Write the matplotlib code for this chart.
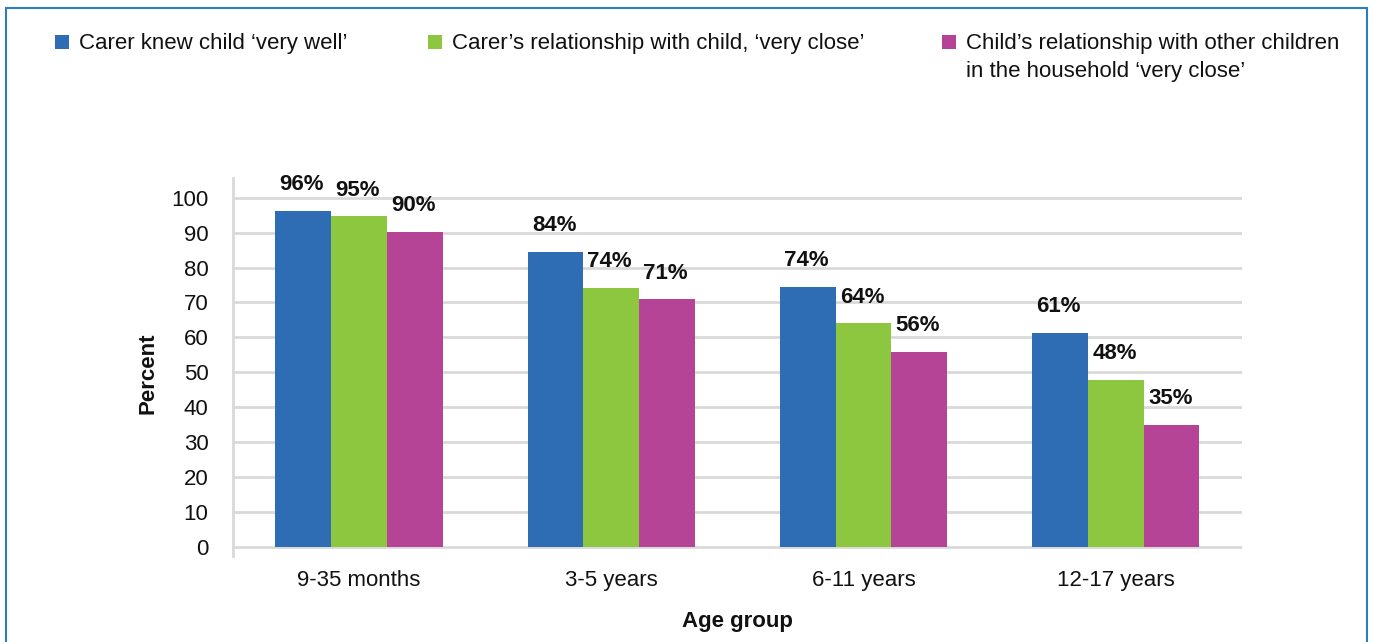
import matplotlib
matplotlib.use("Agg")
import matplotlib.pyplot as plt
from matplotlib.patches import Rectangle
import numpy as np

plt.rcParams['font.family'] = ['Liberation Sans', 'DejaVu Sans']

categories = ['9-35 months', '3-5 years', '6-11 years', '12-17 years']
series_names = ["Carer knew child \u2018very well\u2019",
                "Carer\u2019s relationship with child, \u2018very close\u2019",
                "Child\u2019s relationship with other children\nin the household \u2018very close\u2019"]
knew_very_well = [96.3, 84.4, 74.4, 61.2]
carer_very_close = [94.6, 74.2, 64.0, 47.8]
child_very_close = [90.3, 70.9, 55.8, 35.1]
yticks = [0, 10, 20, 30, 40, 50, 60, 70, 80, 90, 100]

colors = ['#2e6db4', '#8dc63f', '#b54496']
W, H = 1373, 642
FS = 16
fig = plt.figure(figsize=(W / 100, H / 100), dpi=100)

ax = fig.add_axes([232.7 / W, 1 - 556 / H, (1242 - 232.7) / W, (556 - 178) / H])
x = np.arange(len(categories))
bw = 0.221
series = [knew_very_well, carer_very_close, child_very_close]
for i, (vals, c) in enumerate(zip(series, colors)):
    pos = x + (i - 1) * bw
    ax.bar(pos, vals, width=bw, color=c, zorder=3)
    for px, v in zip(pos, vals):
        ax.annotate(f"{round(v)}%", (px, v), xytext=(-1, 15), textcoords='offset points',
                    ha='center', va='baseline', fontsize=FS, fontweight='bold', color='#111111')

ax.set_xlim(-0.5, len(categories) - 0.5)
ax.set_ylim(-2.5, 105.6)
ax.set_yticks(yticks)
ax.set_xticks(x)
ax.set_xticklabels(categories)
ax.tick_params(axis='y', length=0, pad=17.5, labelsize=FS, labelcolor='#111111')
ax.tick_params(axis='x', length=0, pad=10, labelsize=FS, labelcolor='#111111')
ax.grid(axis='y', color='#d9d9d9', linewidth=2, zorder=0)
for s in ['top', 'right', 'bottom']:
    ax.spines[s].set_visible(False)
ax.spines['left'].set_color('#d9d9d9')
ax.spines['left'].set_linewidth(2)

fig.text(148 / W, 1 - 373 / H, 'Percent', rotation=90, ha='center', va='center',
         fontsize=FS, fontweight='bold', color='#111111')
fig.text(737 / W, 1 - 622 / H, 'Age group', ha='center', va='center',
         fontsize=FS, fontweight='bold', color='#111111')

# legend
leg_x = [55, 428, 942]
for lx, name, c in zip(leg_x, series_names, colors):
    fig.patches.append(Rectangle((lx / W, 1 - 49 / H), 14 / W, 14 / H,
                                 transform=fig.transFigure, facecolor=c, edgecolor='none'))
    for j, line in enumerate(name.split('\n')):
        fig.text((lx + 24) / W, 1 - (43 + 28 * j) / H, line, ha='left', va='center',
                 fontsize=FS, color='#111111')

# frame
fig.patches.append(Rectangle((6 / W, -0.05), (1367 - 6) / W, 1.05 - 8 / H,
                             transform=fig.transFigure, fill=False,
                             edgecolor='#2a7dc0', linewidth=1.5))

fig.savefig('out.png', dpi=100)
